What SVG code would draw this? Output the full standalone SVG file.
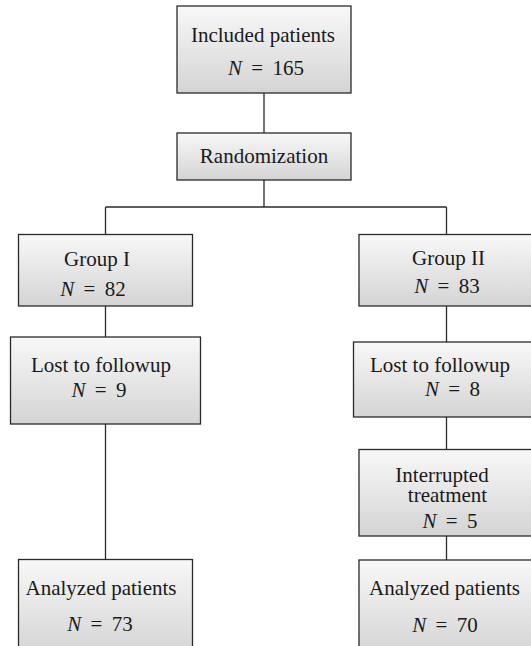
<svg xmlns="http://www.w3.org/2000/svg" width="531" height="646" viewBox="0 0 531 646">
<defs>
<linearGradient id="g" x1="0" y1="0" x2="0" y2="1">
<stop offset="0" stop-color="#f8f8f8"/>
<stop offset="1" stop-color="#d4d4d4"/>
</linearGradient>
<style>
.box{fill:url(#g);stroke:#2a2a2a;stroke-width:1.3}
.t{font-family:"Liberation Serif","Times New Roman",serif;font-size:21px;fill:#1a1a1a;text-anchor:middle}
.n{word-spacing:4px}
.i{font-style:italic}
.c{fill:none;stroke:#2a2a2a;stroke-width:1.3}
</style>
</defs>
<rect width="531" height="646" fill="#ffffff"/>
<g id="connectors">
<path class="c" d="M264 93V133"/>
<path class="c" d="M264 180V207M105.5 207H446.5M105.5 207V234.5M446.5 207V234.5"/>
<path class="c" d="M105.5 306V337"/>
<path class="c" d="M105.5 424V559.5"/>
<path class="c" d="M446.5 306V342"/>
<path class="c" d="M446.5 417V449.5"/>
<path class="c" d="M446.5 536V560"/>
</g>
<g id="included">
<rect class="box" x="177" y="6" width="174" height="87"/>
<text class="t" x="263" y="42">Included patients</text>
<text class="t n" x="266" y="75"><tspan class="i">N</tspan> = 165</text>
</g>
<g id="randomization">
<rect class="box" x="177" y="133" width="174" height="47"/>
<text class="t" x="264" y="163">Randomization</text>
</g>
<g id="group1">
<rect class="box" x="18.5" y="234.5" width="174" height="71.5"/>
<text class="t" x="97" y="265.5">Group I</text>
<text class="t n" x="93" y="295.5"><tspan class="i">N</tspan> = 82</text>
</g>
<g id="lost1">
<rect class="box" x="10.5" y="337" width="190" height="87"/>
<text class="t" x="101" y="371.5">Lost to followup</text>
<text class="t n" x="99" y="397"><tspan class="i">N</tspan> = 9</text>
</g>
<g id="analyzed1">
<rect class="box" x="18.5" y="559.5" width="174" height="95"/>
<text class="t" x="101" y="595">Analyzed patients</text>
<text class="t n" x="100" y="630.5"><tspan class="i">N</tspan> = 73</text>
</g>
<g id="group2">
<rect class="box" x="359" y="234.5" width="180" height="71.5"/>
<text class="t" x="448.5" y="264.5">Group II</text>
<text class="t n" x="447" y="292.5"><tspan class="i">N</tspan> = 83</text>
</g>
<g id="lost2">
<rect class="box" x="353.5" y="342" width="185" height="75"/>
<text class="t" x="440" y="371.5">Lost to followup</text>
<text class="t n" x="452.5" y="396"><tspan class="i">N</tspan> = 8</text>
</g>
<g id="interrupted">
<rect class="box" x="359" y="449.5" width="180" height="86.5"/>
<text class="t" x="442" y="482"><tspan x="442" y="482">Interrupted</tspan><tspan x="447.5" y="502">treatment</tspan></text>
<text class="t n" x="450" y="528"><tspan class="i">N</tspan> = 5</text>
</g>
<g id="analyzed2">
<rect class="box" x="359" y="560" width="180" height="95"/>
<text class="t" x="444.5" y="595">Analyzed patients</text>
<text class="t n" x="445" y="631.5"><tspan class="i">N</tspan> = 70</text>
</g>
</svg>
